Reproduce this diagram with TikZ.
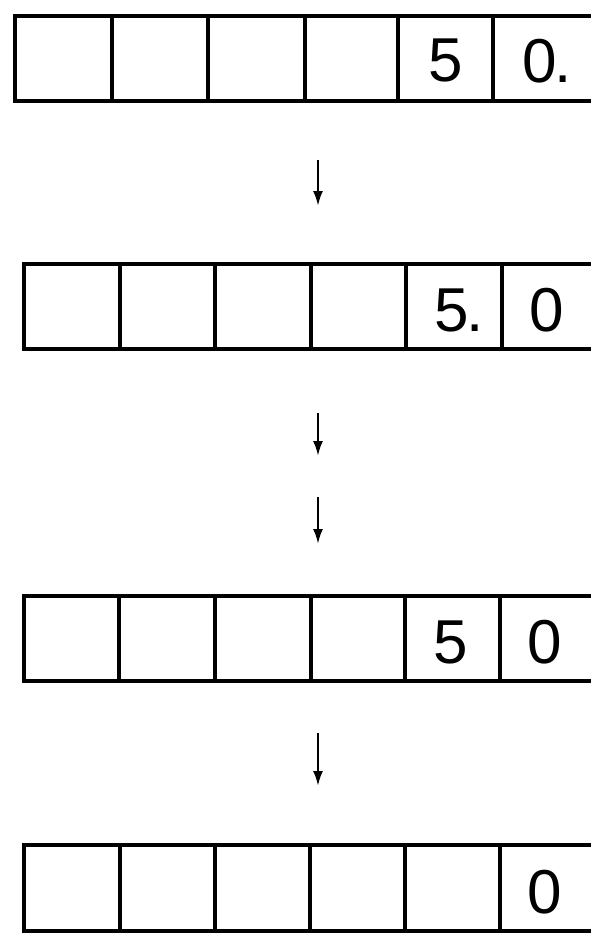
\documentclass[tikz,border=0pt]{standalone}
\usepackage{fontspec}
\usetikzlibrary{arrows.meta}
\newfontfamily\segfont{Liberation Sans}
\begin{document}
\begin{tikzpicture}[x=1pt, y=-1pt, >={Latex[length=15pt,width=10pt]}]
    \tikzset{
        strip/.style={line width=4.4pt},
        wall/.style={line width=3.6pt},
        digit/.style={font=\segfont\fontsize{62}{62}\selectfont, inner sep=0pt},
        step arrow/.style={->, line width=2.4pt}
    }
    \useasboundingbox (0,0) rectangle (590,937);

    % 1. Hàng thứ nhất: 5 và 0.
    \draw[strip] (15,16) rectangle (593,101);
    \foreach \xx in {112,208,305,398,493} \draw[wall] (\xx,16) -- (\xx,101);
    \node[digit] (r1a) at (446,60) {5};
    \node[digit] (r1b) at (540,61) {0\rlap{\kern-0.05em.}};

    % Mũi tên 1
    \coordinate (a1s) at (318,160);
    \coordinate (a1e) at (318,206);
    \draw[step arrow] (a1s) -- (a1e);

    % 2. Hàng thứ hai: 5. và 0
    \draw[strip] (24,264) rectangle (593,349);
    \foreach \xx in {120,215,311,406,502} \draw[wall] (\xx,264) -- (\xx,349);
    \node[digit] (r2a) at (452,310) {5\rlap{\kern-0.05em.}};
    \node[digit] (r2b) at (547,310) {0};

    % Mũi tên 2 và 3
    \coordinate (a2s) at (318,413);
    \coordinate (a2e) at (318,456);
    \draw[step arrow] (a2s) -- (a2e);
    \coordinate (a3s) at (318,497);
    \coordinate (a3e) at (318,544);
    \draw[step arrow] (a3s) -- (a3e);

    % 3. Hàng thứ ba: 5 và 0
    \draw[strip] (24,596) rectangle (593,681);
    \foreach \xx in {119,215,311,405,500} \draw[wall] (\xx,596) -- (\xx,681);
    \node[digit] (r3a) at (451,642) {5};
    \node[digit] (r3b) at (545,642) {0};

    % Mũi tên 4
    \coordinate (a4s) at (318,733);
    \coordinate (a4e) at (318,786);
    \draw[step arrow] (a4s) -- (a4e);

    % 4. Hàng thứ tư: chỉ còn 0
    \draw[strip] (24,845) rectangle (593,931);
    \foreach \xx in {120,215,310,405,500} \draw[wall] (\xx,845) -- (\xx,931);
    \node[digit] (r4b) at (545,892) {0};

\end{tikzpicture}
\end{document}
